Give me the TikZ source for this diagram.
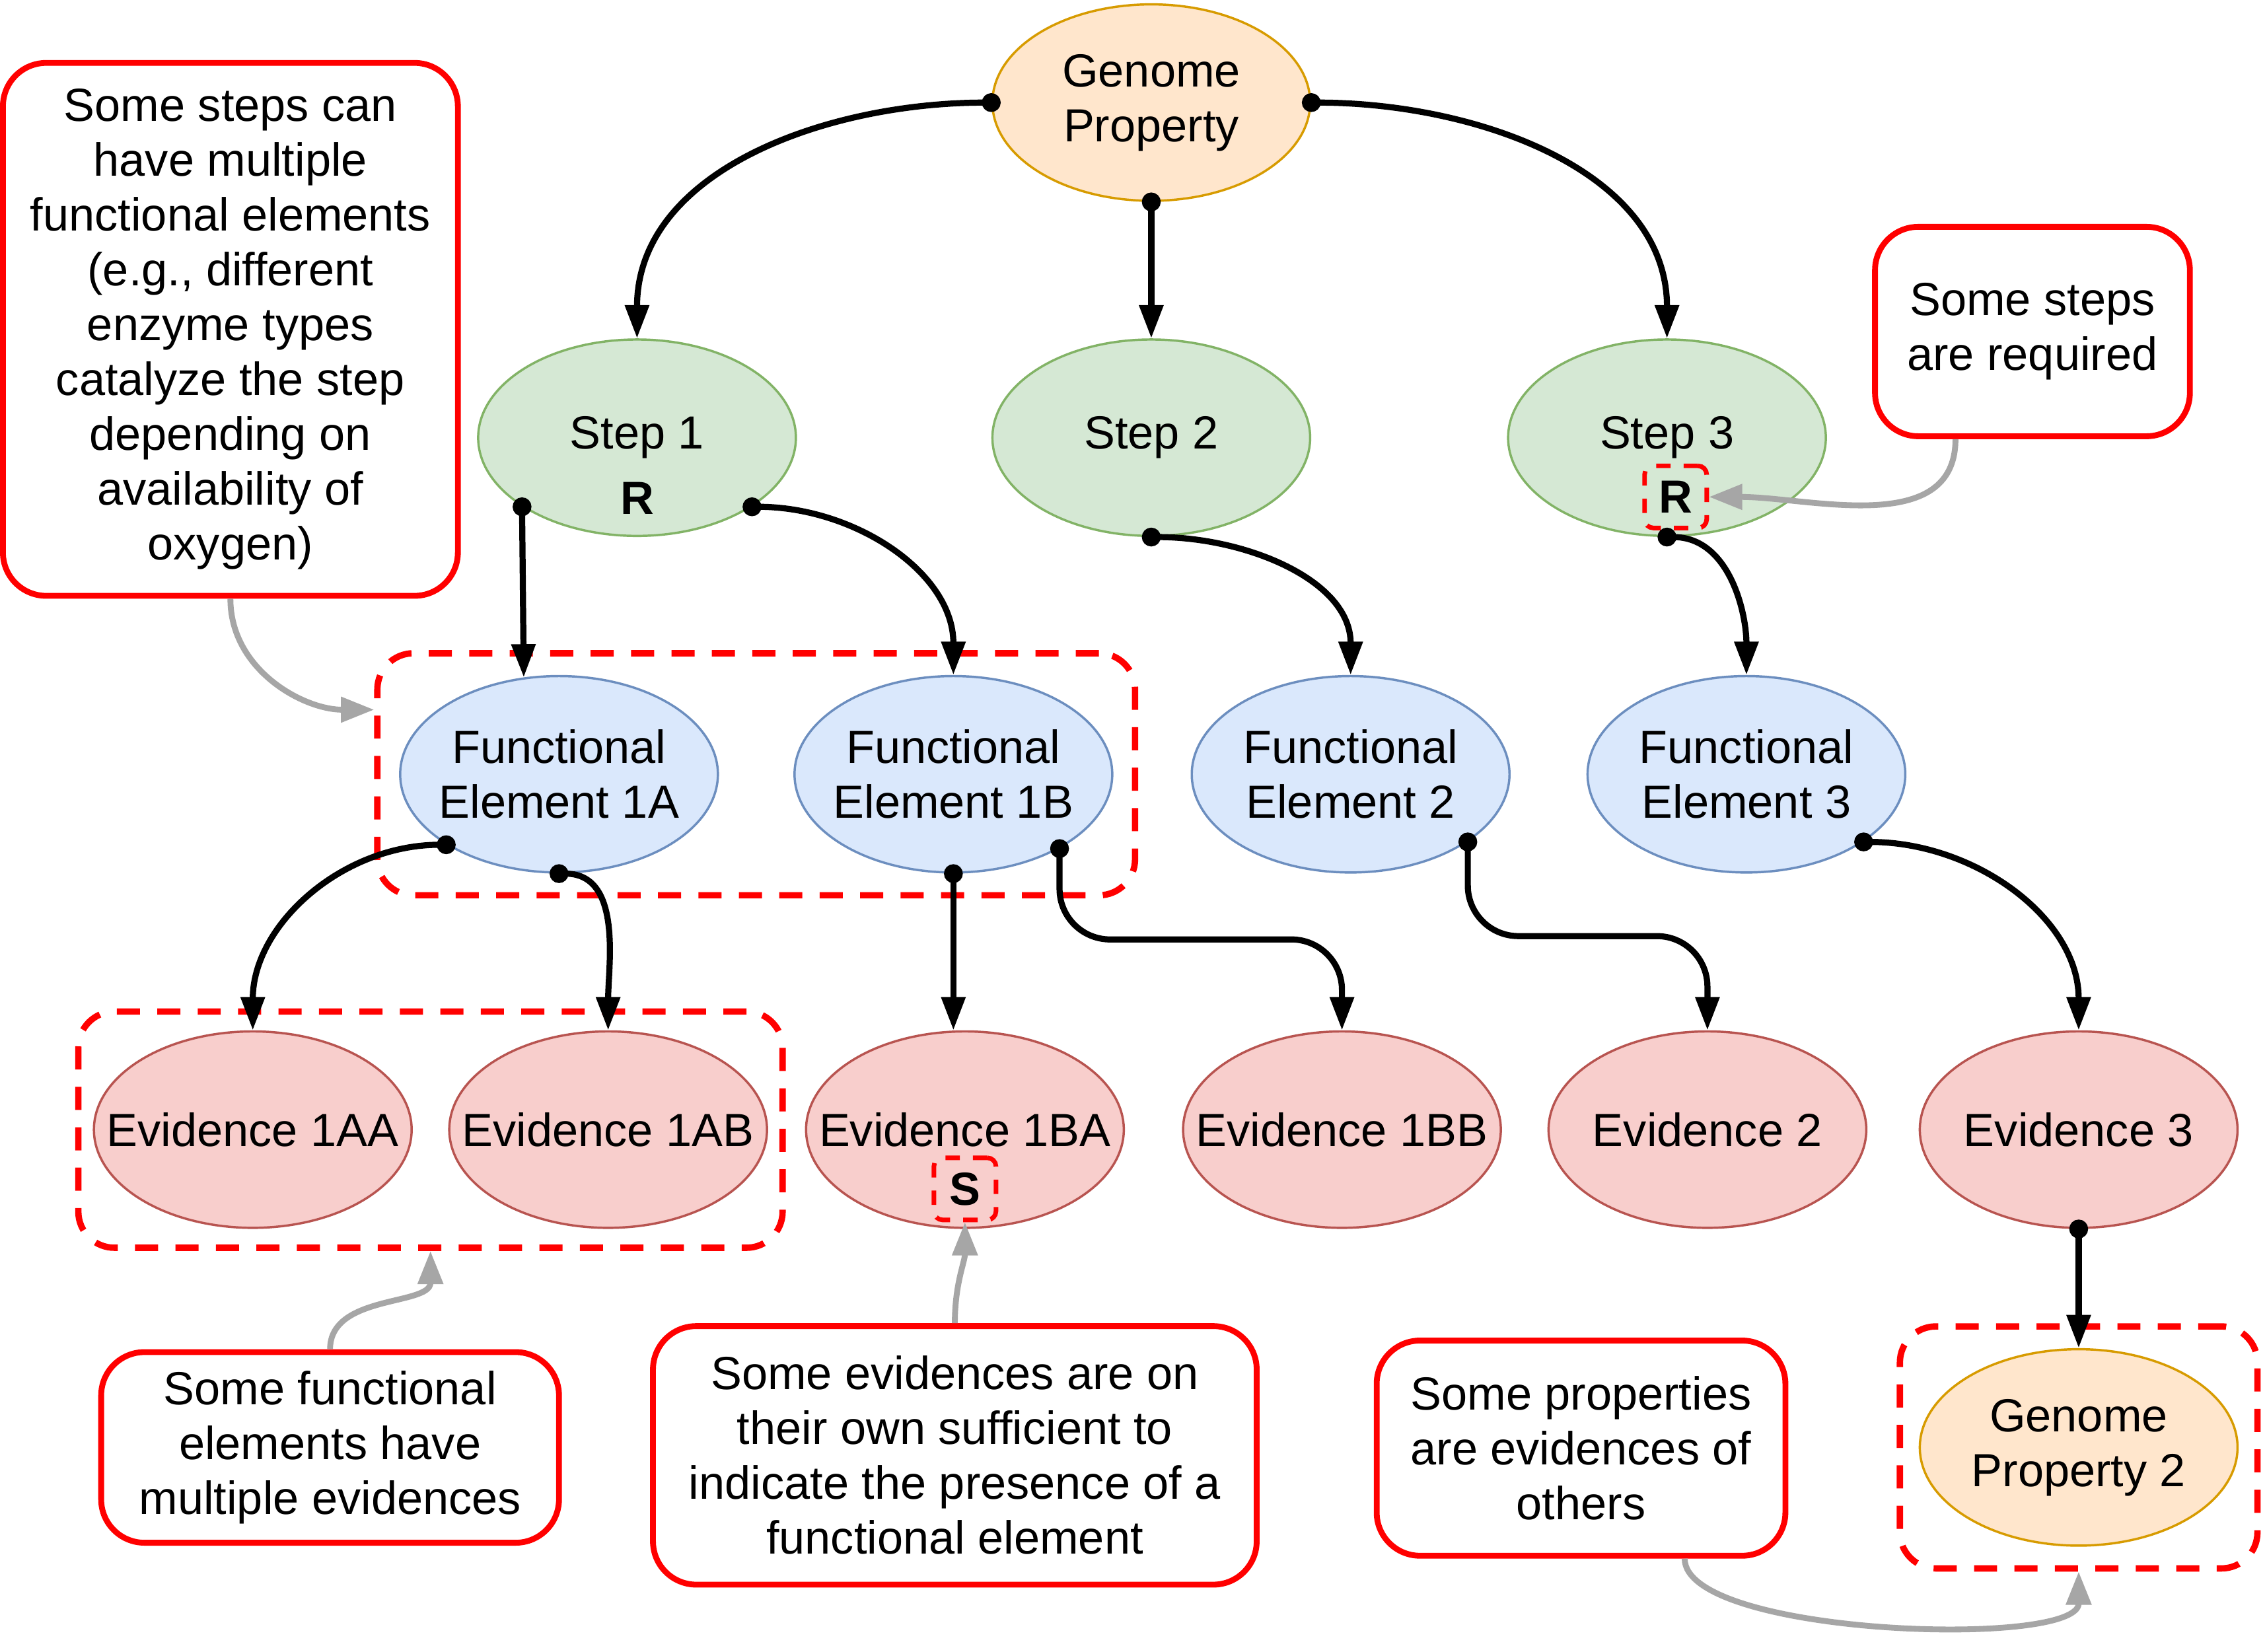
\documentclass[tikz,border=0pt]{standalone}
\usepackage{fontspec}
\setmainfont{Liberation Sans}
\usetikzlibrary{shapes.geometric,arrows.meta,fit,calc}

\definecolor{gpfill}{HTML}{FFE6CC}
\definecolor{gpline}{HTML}{D79B00}
\definecolor{stepfill}{HTML}{D5E8D4}
\definecolor{stepline}{HTML}{82B366}
\definecolor{funcfill}{HTML}{DAE8FC}
\definecolor{funcline}{HTML}{6C8EBF}
\definecolor{evidfill}{HTML}{F8CECC}
\definecolor{evidline}{HTML}{B85450}
\definecolor{hintgrey}{HTML}{A6A6A6}

\begin{document}
\begin{tikzpicture}[x=0.02cm,y=-0.02cm,
    font=\fontsize{18.3}{21.6}\selectfont,
    prop/.style={ellipse,draw=gpline,fill=gpfill,line width=0.9pt,minimum width=4.4cm,minimum height=2.72cm,align=center,inner ysep=0pt,inner xsep=-0.5cm},
    stepnode/.style={prop,draw=stepline,fill=stepfill},
    func/.style={prop,draw=funcline,fill=funcfill},
    evid/.style={prop,draw=evidline,fill=evidfill},
    note/.style={rectangle,rounded corners=0.6cm,draw=red,line width=2.3pt,fill=white,align=center,inner sep=0pt},
    group/.style={rectangle,rounded corners=0.5cm,draw=red,line width=2.5pt,dash pattern=on 0.32cm off 0.24cm},
    tag/.style={font=\fontsize{18.3}{21.6}\selectfont\bfseries,inner sep=0pt,minimum size=0.86cm},
    tagbox/.style={tag,draw=red,line width=1.8pt,rounded corners=0.12cm,dash pattern=on 0.2cm off 0.18cm},
    link/.style={line width=2.4pt,shorten <=-0.13cm,{Circle[length=0.26cm]}-{Triangle[length=0.46cm,width=0.32cm]}},
    hint/.style={line width=2.3pt,draw=hintgrey,-{Triangle[length=0.46cm,width=0.34cm]}}
]
    \path[fill=white] (0,0) rectangle (1568,1130);

    % Property
    \node[prop] (gp) at (797,71) {Genome\\Property};

    % Steps
    \node[stepnode] (s1) at (441,303) {Step 1};
    \node[stepnode] (s2) at (797,303) {Step 2};
    \node[stepnode] (s3) at (1154,303) {Step 3};
    \node[tag] (r1) at ([yshift=-0.84cm]s1.center) {R};
    \node[tagbox] (r3) at ([xshift=0.12cm,yshift=-0.82cm]s3.center) {R};

    % Functional elements
    \node[func] (fe1a) at (387,536) {Functional\\Element 1A};
    \node[func] (fe1b) at (660,536) {Functional\\Element 1B};
    \node[func] (fe2) at (935,536) {Functional\\Element 2};
    \node[func] (fe3) at (1209,536) {Functional\\Element 3};

    % Evidences
    \node[evid] (e1aa) at (175,782) {Evidence 1AA};
    \node[evid] (e1ab) at (421,782) {Evidence 1AB};
    \node[evid] (e1ba) at (668,782) {Evidence 1BA};
    \node[evid] (e1bb) at (929,782) {Evidence 1BB};
    \node[evid] (e2) at (1182,782) {Evidence 2};
    \node[evid] (e3) at (1439,782) {Evidence 3};
    \node[tagbox] (sf) at (668,823) {S};

    % Second property
    \node[prop] (gp2) at (1439,1002) {Genome\\Property 2};

    % Groups
    \node[group,fit=(fe1a)(fe1b),inner xsep=0.3cm,inner ysep=0.3cm] (gfe1) {};
    \node[group,fit=(e1aa)(e1ab),inner xsep=0.2cm,inner ysep=0.26cm] (gev1a) {};
    \node[group,fit=(gp2),inner xsep=0.26cm,inner ysep=0.3cm] (ggp2) {};

    % Notes
    \node[note,minimum width=6.3cm,minimum height=7.38cm] (nmulti) at (159.5,228) {Some steps can\\have multiple\\functional elements\\(e.g., different\\enzyme types\\catalyze the step\\depending on\\availability of\\oxygen)};
    \node[note,minimum width=4.36cm,minimum height=2.9cm] (nreq) at (1407,229.5) {Some steps\\are required};
    \node[note,minimum width=6.34cm,minimum height=2.64cm] (nfunc) at (228.5,1002) {Some functional\\elements have\\multiple evidences};
    \node[note,minimum width=8.36cm,minimum height=3.58cm] (nsuff) at (661,1007.5) {Some evidences are on\\their own sufficient to\\indicate the presence of a\\functional element};
    \node[note,minimum width=5.66cm,minimum height=2.98cm] (nprop) at (1094.5,1002.5) {Some properties\\are evidences of\\others};

    % Links
    \draw[link] (gp.west) to[out=180,in=90] (s1.north);
    \draw[link] (gp.south) -- (s2.north);
    \draw[link] (gp.east) to[out=0,in=90] (s3.north);
    \draw[link] (s1.211) -- (fe1a.110);
    \draw[link] (s1.329) to[out=0,in=90] (fe1b.north);
    \draw[link] (s2.south) to[out=0,in=90] (fe2.north);
    \draw[link] (s3.south) to[out=0,in=90] (fe3.north);
    \draw[link] (fe1a.212) to[out=180,in=90] (e1aa.north);
    \draw[link] (fe1a.south) to[out=0,in=90] (e1ab.north);
    \draw[link] (fe1b.south) -- (fe1b.south |- e1ba.north);
    \draw[link,rounded corners=0.7cm] (fe1b.325) |- ($(fe1b.325)!0.5!(e1bb.north)$) -| (e1bb.north);
    \draw[link,rounded corners=0.7cm] (fe2.330) |- ($(fe2.330)!0.5!(e2.north)$) -| (e2.north);
    \draw[link] (fe3.330) to[out=0,in=90] (e3.north);
    \draw[link] (e3.south) -- (gp2.north);

    % Hints
    \draw[hint] (nmulti.south) to[out=-90,in=180] ($(gfe1.north west)!0.24!(gfe1.south west)$);
    \draw[hint] ($(nreq.south west)!0.26!(nreq.south east)$) to[out=-90,in=0] (r3.east);
    \draw[hint] (nfunc.north) to[out=90,in=-90] (gev1a.south);
    \draw[hint] (nsuff.north) to[out=90,in=-90] (sf.south);
    \draw[hint] ($(nprop.south west)!0.75!(nprop.south east)$) to[out=-90,in=-90,looseness=0.5] (ggp2.south);

\end{tikzpicture}
\end{document}
